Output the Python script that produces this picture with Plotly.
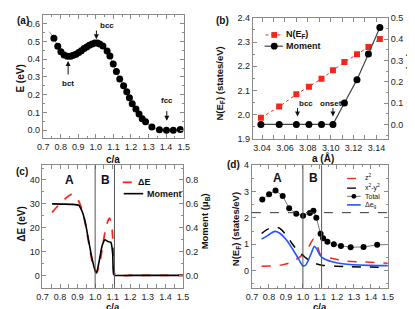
import plotly.graph_objects as go

W, H = 415, 309

# ---------------- data ----------------
# (a) total energy vs c/a
ca_a = [0.761, 0.783, 0.801, 0.819, 0.838, 0.856, 0.871, 0.887, 0.902, 0.917, 0.933, 0.948,
        0.963, 0.979, 0.994, 1.009, 1.022, 1.040, 1.064, 1.080, 1.099, 1.117, 1.136, 1.158,
        1.176, 1.191, 1.207, 1.228, 1.246, 1.264, 1.283, 1.319, 1.362, 1.402, 1.441, 1.481]
E_a = [0.518, 0.473, 0.442, 0.424, 0.417, 0.417, 0.422, 0.428, 0.438, 0.447, 0.460, 0.469,
       0.478, 0.486, 0.491, 0.491, 0.486, 0.475, 0.446, 0.418, 0.373, 0.330, 0.288, 0.250,
       0.216, 0.183, 0.149, 0.120, 0.091, 0.065, 0.047, 0.018, 0.002, 0.000, 0.000, 0.004]
fit_ca_a = [0.735] + ca_a
fit_E_a = [0.555] + E_a

# (b) N(EF) and moment vs lattice constant
a_b = [3.039, 3.055, 3.070, 3.081, 3.092, 3.102, 3.112, 3.123, 3.133, 3.143]
NEF_b = [1.987, 2.033, 2.084, 2.115, 2.148, 2.183, 2.217, 2.249, 2.279, 2.313]
mom_b = [0.0, 0.0, 0.0, 0.0, 0.0, 0.0, 0.10, 0.21, 0.33, 0.455]

# (c) Delta E and moment vs c/a
dE_ca = [0.755, 0.787, 0.833, 0.866, 0.893, 0.915, 0.934, 0.952, 0.971, 0.989, 1.008, 1.026,
         1.044, 1.063, 1.081, 1.094, 1.105, 1.114, 1.2, 1.3, 1.4, 1.5]
dE_c = [26.4, 29.1, 32.4, 34.0, 32.8, 29.7, 25.1, 18.5, 10.5, 3.9, 1.0, 5.2,
        13.1, 20.5, 24.0, 21.1, 9.2, 0.3, 0.0, 0.0, 0.0, 0.0]
mom_ca = [0.755, 0.814, 0.870, 0.906, 0.925, 0.943, 0.962, 0.980, 0.998, 1.008, 1.021, 1.040,
          1.055, 1.072, 1.090, 1.100, 1.105, 1.114, 1.2, 1.3, 1.4, 1.5]
mom_c = [0.600, 0.598, 0.596, 0.588, 0.540, 0.450, 0.300, 0.157, 0.050, 0.024, 0.104, 0.250,
         0.298, 0.285, 0.277, 0.180, 0.010, 0.0, 0.0, 0.0, 0.0, 0.0]

# (d) N(EF) projections vs c/a
tot_ca = [0.761, 0.801, 0.839, 0.881, 0.919, 0.961, 1.001, 1.041, 1.062, 1.079, 1.104, 1.119,
          1.144, 1.182, 1.224, 1.281, 1.357, 1.437, 1.5]
tot_d = [2.70, 2.90, 3.04, 2.83, 2.37, 2.16, 2.08, 2.19, 2.27, 2.01, 1.40, 1.23,
         1.10, 1.00, 0.94, 0.89, 0.90, 0.98, 0.99]
tot_marker_ca = tot_ca[:-1]
tot_marker_d = tot_d[:-1]
x2y2_ca = [0.757, 0.786, 0.833, 0.862, 0.900, 0.938, 0.976, 1.005, 1.033, 1.071, 1.119, 1.243, 1.5]
x2y2_d = [1.41, 1.55, 1.67, 1.61, 1.37, 1.01, 0.71, 0.55, 0.41, 0.28, 0.20, 0.16, 0.12]
z2_ca = [0.757, 0.862, 0.919, 0.957, 0.995, 1.033, 1.062, 1.081, 1.100, 1.119, 1.167, 1.243, 1.357, 1.5]
z2_d = [0.17, 0.20, 0.29, 0.41, 0.59, 0.89, 1.19, 1.01, 0.65, 0.53, 0.47, 0.37, 0.33, 0.28]
eg_ca = [0.757, 0.795, 0.833, 0.862, 0.900, 0.938, 0.976, 0.999, 1.014, 1.033, 1.052, 1.067,
         1.081, 1.100, 1.119, 1.167, 1.243, 1.395, 1.5]
eg_d = [1.20, 1.34, 1.49, 1.43, 1.19, 0.83, 0.43, 0.19, 0.20, 0.41, 0.71, 0.92,
        0.83, 0.59, 0.47, 0.35, 0.25, 0.20, 0.19]

region_bounds = [1.0, 1.11]
ref_level_d = 2.2

# ---------------- style ----------------
RED = "#f2281c"
BLUE = "#1f55ff"
FRAME = "#8a8a8a"
TICKFONT = dict(family="Liberation Sans Narrow, Liberation Sans, Arial", size=9, color="#222")
FONT = "Liberation Sans, Arial"


def px(x):
    return x / W


def py(y):
    return 1 - y / H


def axis(domain, rng, dtick, minor, mirror="allticks", **kw):
    d = dict(domain=domain, range=rng, dtick=dtick, showline=True, linecolor=FRAME,
             linewidth=1, mirror=mirror, ticks="inside", ticklen=4, tickcolor=FRAME,
             tickfont=TICKFONT, showgrid=False, zeroline=False,
             minor=dict(dtick=minor, ticks="inside", ticklen=2, tickcolor=FRAME))
    d.update(kw)
    return d


fig = go.Figure()

# (a)
fig.add_trace(go.Scatter(x=fit_ca_a, y=fit_E_a, mode="lines", line=dict(color="#777", width=0.8, shape="spline"),
                         showlegend=False, xaxis="x", yaxis="y"))
fig.add_trace(go.Scatter(x=ca_a, y=E_a, mode="markers", marker=dict(color="black", size=7),
                         showlegend=False, xaxis="x", yaxis="y"))

# (b)
fig.add_trace(go.Scatter(x=a_b, y=NEF_b, mode="lines+markers", name="N(E<sub>F</sub>)",
                         line=dict(color=RED, width=1, dash="dot"),
                         marker=dict(symbol="square", color=RED, size=6),
                         xaxis="x2", yaxis="y2", showlegend=False))
fig.add_trace(go.Scatter(x=a_b, y=mom_b, mode="lines+markers", name="Moment",
                         line=dict(color="#444", width=1.2),
                         marker=dict(color="black", size=7),
                         xaxis="x2", yaxis="y3", showlegend=False))

# (c)
fig.add_trace(go.Scatter(x=dE_ca, y=dE_c, mode="lines", name="ΔE",
                         line=dict(color=RED, width=1.8, dash="dash", shape="spline", smoothing=0.7),
                         xaxis="x3", yaxis="y4", showlegend=False))
fig.add_trace(go.Scatter(x=mom_ca, y=mom_c, mode="lines", name="Moment",
                         line=dict(color="black", width=1.6, shape="spline", smoothing=0.5),
                         xaxis="x3", yaxis="y5", showlegend=False))

# (d)
fig.add_trace(go.Scatter(x=z2_ca, y=z2_d, mode="lines", name="z<sup>2</sup>",
                         line=dict(color=RED, width=1.5, dash="dash", shape="spline", smoothing=0.8),
                         xaxis="x4", yaxis="y6", showlegend=False))
fig.add_trace(go.Scatter(x=x2y2_ca, y=x2y2_d, mode="lines", name="x<sup>2</sup>-y<sup>2</sup>",
                         line=dict(color="black", width=1.5, dash="dash", shape="spline", smoothing=0.8),
                         xaxis="x4", yaxis="y6", showlegend=False))
fig.add_trace(go.Scatter(x=tot_ca, y=tot_d, mode="lines", name="Total",
                         line=dict(color="#555", width=0.8),
                         xaxis="x4", yaxis="y6", showlegend=False))
fig.add_trace(go.Scatter(x=tot_marker_ca, y=tot_marker_d, mode="markers", name="Total",
                         marker=dict(color="black", size=6),
                         xaxis="x4", yaxis="y6", showlegend=False))
fig.add_trace(go.Scatter(x=eg_ca, y=eg_d, mode="lines", name="Δe<sub>g</sub>",
                         line=dict(color=BLUE, width=1.6, shape="spline", smoothing=0.8),
                         xaxis="x4", yaxis="y6", showlegend=False))

shapes = []
for b in region_bounds:
    shapes.append(dict(type="line", xref="x3", yref="y4 domain", x0=b, x1=b, y0=0, y1=1,
                       line=dict(color="#555", width=1)))
    shapes.append(dict(type="line", xref="x4", yref="y6 domain", x0=b, x1=b, y0=0, y1=1,
                       line=dict(color="#555", width=1)))
shapes.append(dict(type="line", xref="x4 domain", yref="y6", x0=0, x1=1, y0=ref_level_d, y1=ref_level_d,
                   line=dict(color="#333", width=1, dash="dash")))

ann = []


def label(x, y, text, size=10, bold=True, angle=0, **kw):
    t = f"<b>{text}</b>" if bold else text
    d = dict(x=x, y=y, xref="paper", yref="paper", text=t, showarrow=False, textangle=angle,
             xanchor="center", yanchor="middle",
             font=dict(family=FONT, size=size, color="#111"))
    d.update(kw)
    ann.append(d)


# panel letters
label(px(9), py(8), "(a)", 10)
label(px(215), py(8), "(b)", 10)
label(px(8), py(164), "(c)", 10)
label(px(226), py(157), "(d)", 10)

# axis titles
label(px(7), py(68), "E (eV)", 10, angle=-90)
label(px(102), py(151), "c/a", 10)
label(px(212), py(73), "N(E<sub>F</sub>) (states/eV)", 9.5, angle=-90)
label(px(408), py(70), "Moment (μ<sub>B</sub>)", 9.5, angle=-90)
label(px(318), py(150), "a (Å)", 10)
label(px(8), py(218), "ΔE (eV)", 10, angle=-90)
label(px(197), py(215), "Moment (μ<sub>B</sub>)", 9.5, angle=-90)
label(px(102), py(303), "c/a", 9.5)
label(px(228), py(223), "N(E<sub>F</sub>) (states/eV)", 9.5, angle=-90)
label(px(315), py(303), "c/a", 9.5)

# region labels
for xr, yr, yv in [("x3", "y4", 40), ("x4", "y6", 3.5)]:
    ann.append(dict(x=0.853, y=yv, xref=xr, yref=yr, text="<b>A</b>", showarrow=False,
                    font=dict(family=FONT, size=12, color="#111")))
    ann.append(dict(x=1.06, y=yv, xref=xr, yref=yr, text="<b>B</b>", showarrow=False,
                    font=dict(family=FONT, size=12, color="#111")))

SMALL = dict(family=FONT, size=8, color="#111")


def arrow(xr, yr, x, y_head, y_tail):
    ann.append(dict(x=x, y=y_head, ax=x, ay=y_tail, xref=xr, yref=yr, axref=xr, ayref=yr,
                    text="", showarrow=True, arrowhead=2, arrowsize=1, arrowwidth=1,
                    arrowcolor="#111"))


def txt(xr, yr, x, y, t):
    ann.append(dict(x=x, y=y, xref=xr, yref=yr, text=f"<b>{t}</b>", showarrow=False, font=SMALL,
                    xanchor="center", yanchor="middle"))


# (a) arrows
arrow("x", "y", 0.842, 0.39, 0.305)
txt("x", "y", 0.842, 0.262, "bct")
arrow("x", "y", 1.003, 0.512, 0.57)
txt("x", "y", 1.062, 0.59, "bcc")
arrow("x", "y", 1.404, 0.053, 0.116)
txt("x", "y", 1.404, 0.165, "fcc")
# (b) arrows
arrow("x2", "y2", 3.071, 1.992, 2.033)
txt("x2", "y2", 3.078, 2.046, "bcc")
arrow("x2", "y2", 3.102, 1.992, 2.033)
txt("x2", "y2", 3.100, 2.046, "onset")


# ---------------- hand-drawn legends (compact, as in the reference) ----------------
def leg_line(x0, x1, y, color, dash="solid", width=1.5):
    shapes.append(dict(type="line", xref="paper", yref="paper", x0=px(x0), x1=px(x1), y0=py(y), y1=py(y),
                       line=dict(color=color, width=width, dash=dash)))


def leg_square(x, y, s, color):
    shapes.append(dict(type="rect", xref="paper", yref="paper", x0=px(x - s), x1=px(x + s),
                       y0=py(y + s), y1=py(y - s), fillcolor=color, line=dict(width=0)))


def leg_dot(x, y, r, color):
    shapes.append(dict(type="circle", xref="paper", yref="paper", x0=px(x - r), x1=px(x + r),
                       y0=py(y + r), y1=py(y - r), fillcolor=color, line=dict(width=0)))


def leg_text(x, y, t, size, bold=True):
    tt = f"<b>{t}</b>" if bold else t
    ann.append(dict(x=px(x), y=py(y), xref="paper", yref="paper", text=tt, showarrow=False,
                    xanchor="left", yanchor="middle", font=dict(family=FONT, size=size, color="#111")))


# (b)
leg_line(259, 277, 22.7, RED, "dot", 1)
leg_square(268, 22.7, 3, RED)
leg_text(278, 22.7, "N(E<sub>F</sub>)", 9)
leg_line(258, 277, 34.3, "#444", "solid", 1.2)
leg_dot(268, 34.3, 3.5, "black")
leg_text(278, 34.3, "Moment", 9)
# (c)
leg_line(112, 124, 175, RED, "dash", 1.8)
leg_text(126, 175, "ΔE", 9)
leg_line(113, 133, 186.7, "black", "solid", 1.6)
leg_text(135, 186.7, "Moment", 9)
# (d)
leg_line(343, 357, 171, RED, "dash", 1.3)
leg_text(359, 170, "z<sup>2</sup>", 7, bold=False)
leg_line(343, 357, 181, "black", "dash", 1.3)
leg_text(359, 180, "x<sup>2</sup>-y<sup>2</sup>", 7, bold=False)
leg_line(343, 357, 189.5, "#555", "solid", 0.8)
leg_dot(350, 189.5, 2.5, "black")
leg_text(359, 189.5, "Total", 7, bold=False)
leg_line(343, 357, 198.3, BLUE, "solid", 1.6)
leg_text(359, 198.3, "Δe<sub>g</sub>", 7, bold=False)

BOT = 284
fig.update_layout(
    width=W, height=H, margin=dict(l=0, r=0, t=0, b=0),
    paper_bgcolor="white", plot_bgcolor="white", showlegend=False,
    xaxis=axis([px(29.7), px(174.7)], [0.698, 1.5], 0.1, 0.05, anchor="y", tickformat=".1f"),
    yaxis=axis([py(129), py(1.7)], [-0.043, 0.651], 0.1, 0.05, anchor="x", tickformat=".1f"),
    xaxis2=axis([px(246), px(385)], [3.032, 3.150], 0.02, 0.01, anchor="y2", tickformat=".2f"),
    yaxis2=axis([py(130), py(5)], [1.9, 2.4], 0.1, 0.05, mirror=True, anchor="x2", tickformat=".1f"),
    yaxis3=axis([py(130), py(5)], [-0.0676, 0.5], 0.1, 0.05, mirror=False, anchor="x2",
                overlaying="y2", side="right", tickformat=".1f"),
    xaxis3=axis([px(29.3), px(174)], [0.7, 1.5], 0.1, 0.05, anchor="y4", tickformat=".1f"),
    yaxis4=axis([py(BOT), py(157.3)], [-5.2, 46.2], 10, 5, mirror=True, anchor="x3"),
    yaxis5=axis([py(BOT), py(157.3)], [-0.104, 0.924], 0.2, 0.1, mirror=False, anchor="x3",
                overlaying="y4", side="right", tickformat=".1f"),
    xaxis4=axis([px(245), px(385)], [0.7, 1.5], 0.1, 0.05, anchor="y6", tickformat=".1f"),
    yaxis6=axis([py(BOT), py(157.3)], [-0.65, 4.0], 1, 0.5, anchor="x4"),
    shapes=shapes,
    annotations=ann,
)

fig.write_html("out.html")
